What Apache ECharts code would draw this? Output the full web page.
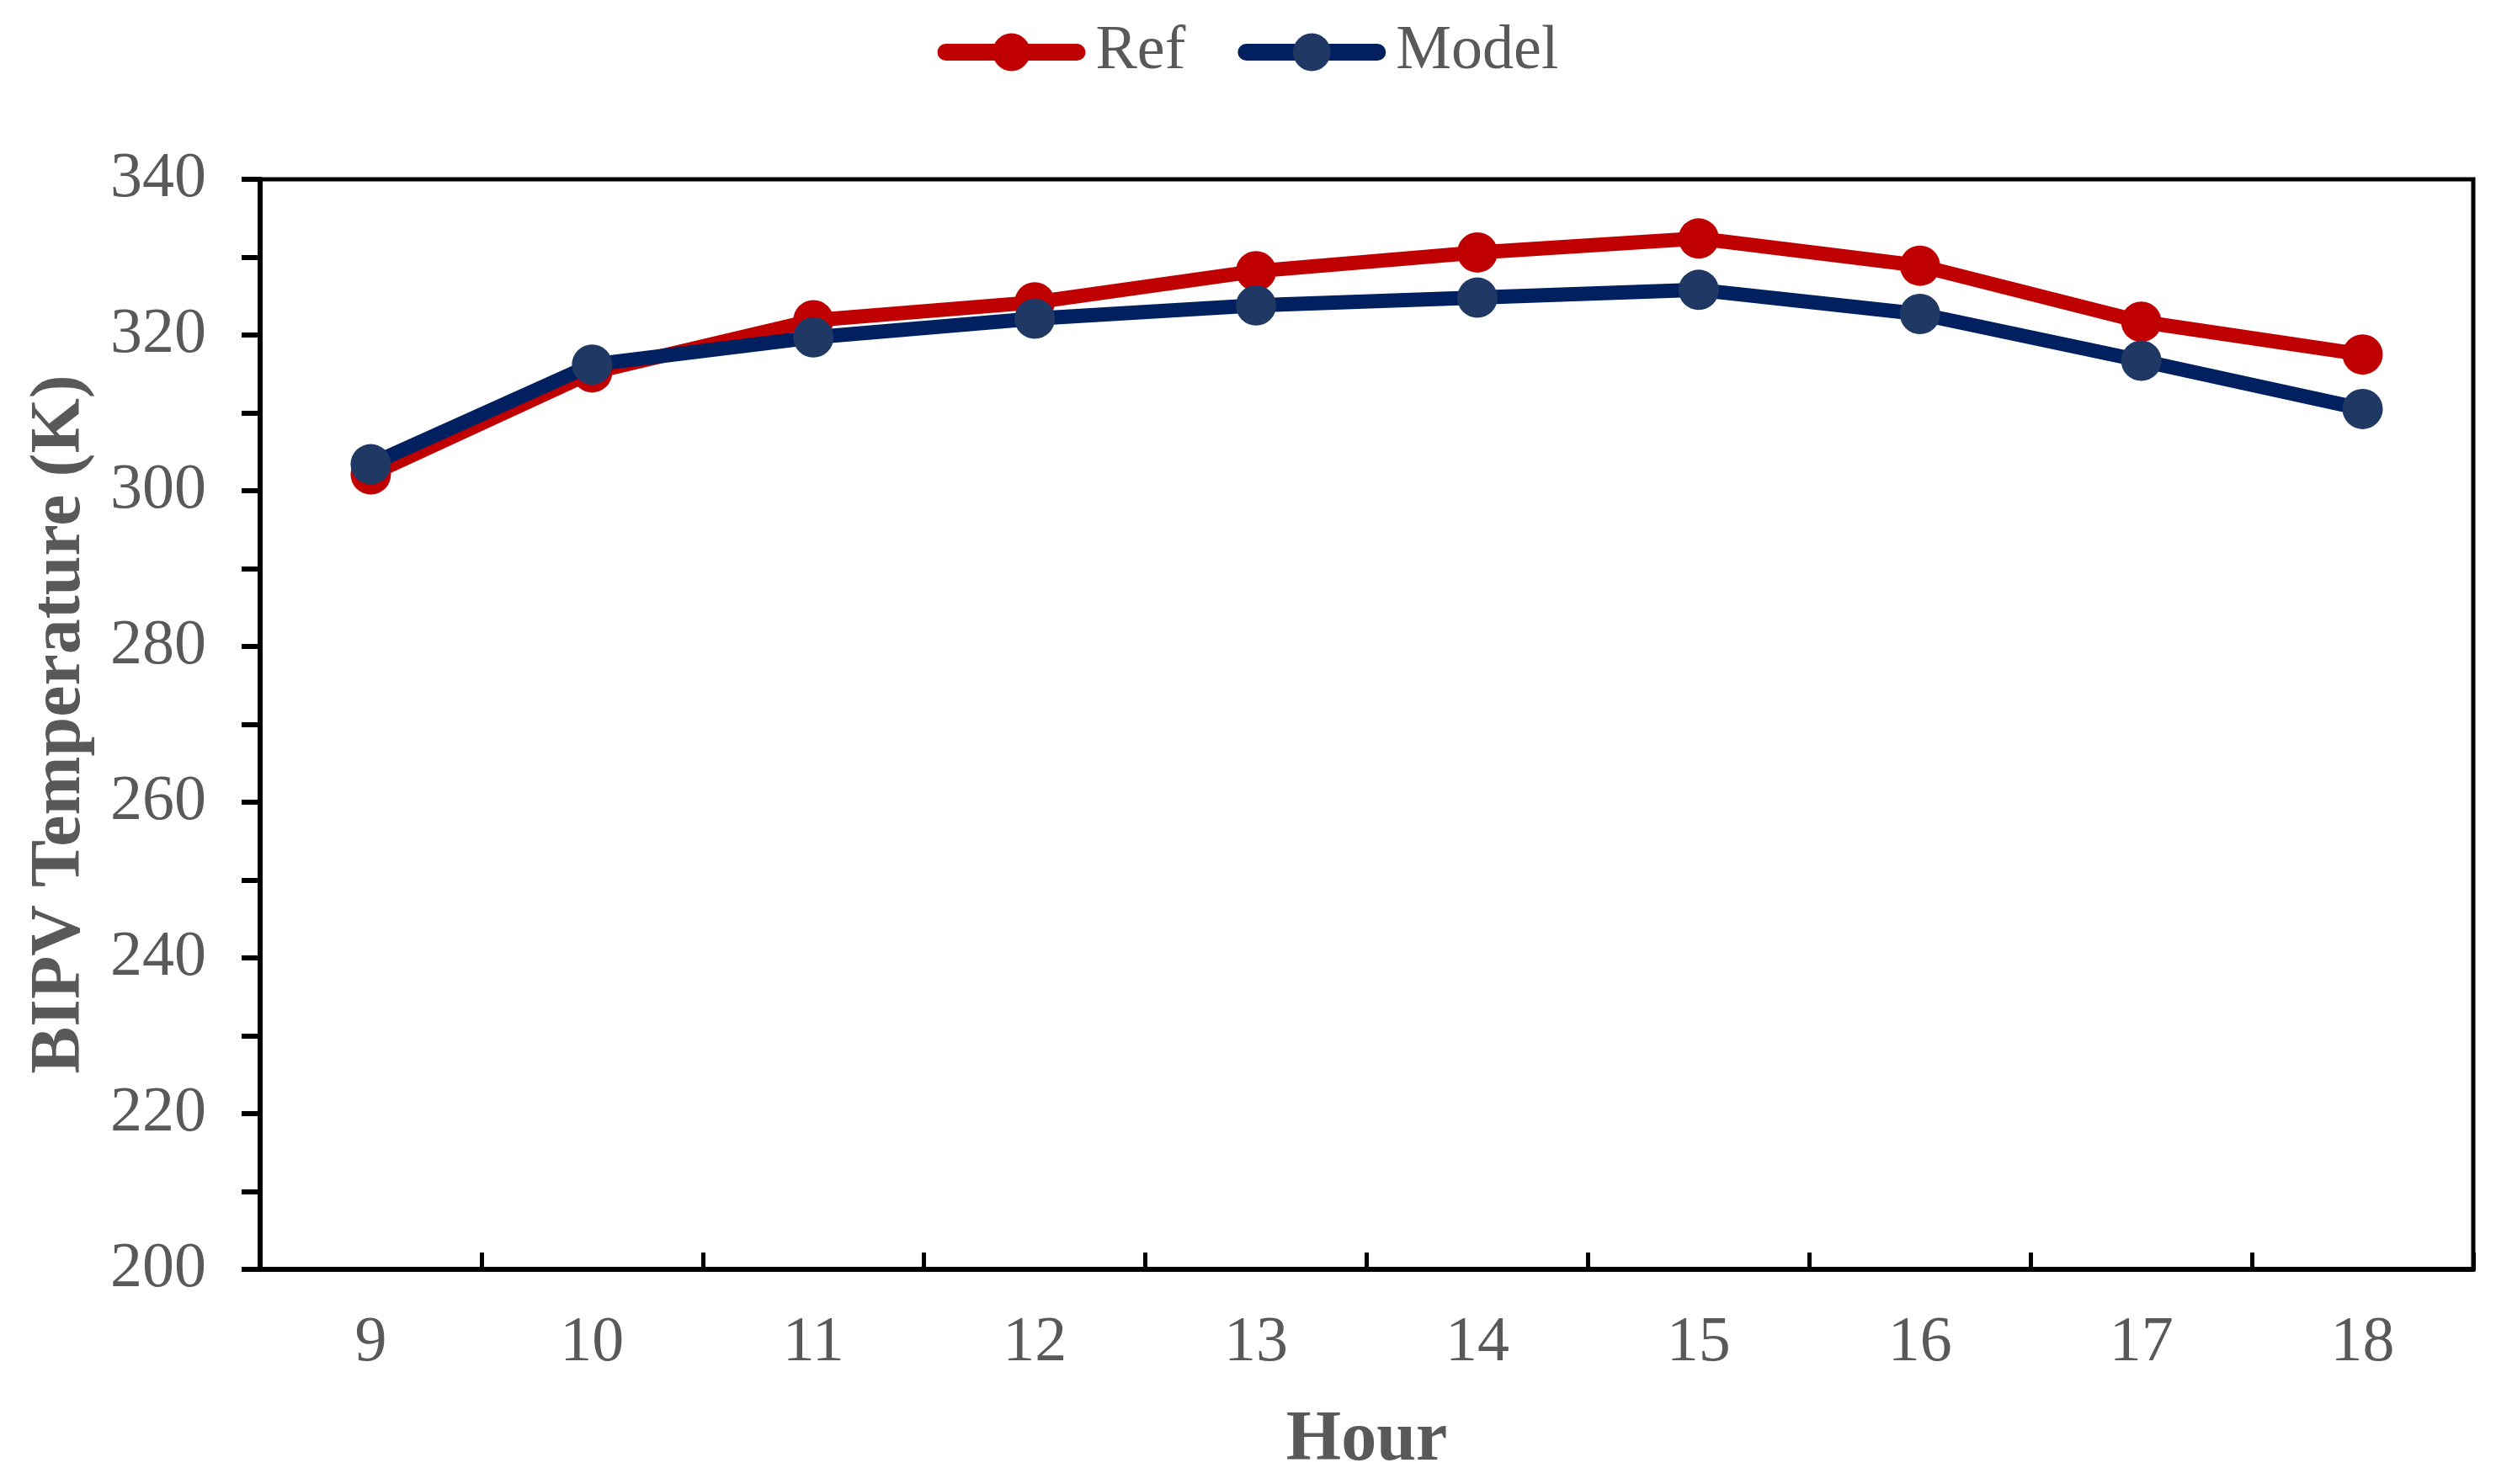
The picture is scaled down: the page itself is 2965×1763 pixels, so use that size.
<!DOCTYPE html>
<html>
<head>
<meta charset="utf-8">
<script src="https://cdn.jsdelivr.net/npm/echarts@6/dist/echarts.min.js"></script>
<style>
html,body{margin:0;padding:0;background:#fff;}
#chart{width:2965px;height:1763px;}
</style>
</head>
<body>
<div id="chart"></div>
<script>
const hours = ['9','10','11','12','13','14','15','16','17','18'];
const refValues = [302.1, 315.2, 321.9, 324.2, 328.2, 330.6, 332.4, 328.9, 321.7, 317.5];
const modelValues = [303.4, 316.2, 319.7, 322.1, 323.8, 324.8, 325.8, 322.7, 316.7, 310.5];
const seriesNames = ['Ref', 'Model'];
const yAxisTitle = 'BIPV Temperature (K)';
const xAxisTitle = 'Hour';

const FONT = "'Liberation Serif', 'Times New Roman', serif";
const GREY = '#595959';

const chart = echarts.init(document.getElementById('chart'), null, {renderer: 'canvas'});
chart.setOption({
  animation: false,
  backgroundColor: '#fff',
  legend: {
    top: 20,
    left: 'center',
    itemWidth: 156,
    itemHeight: 56,
    itemGap: 62,
    lineStyle: {width: 20, cap: 'round'},
    textStyle: {fontFamily: FONT, fontSize: 74, color: GREY, padding: [0, 0, 0, 17]},
    data: seriesNames
  },
  grid: {
    left: 309, right: 27, top: 213, bottom: 255,
    show: true, borderColor: '#000', borderWidth: 5,
    containLabel: false
  },
  xAxis: {
    type: 'category',
    data: hours,
    boundaryGap: true,
    name: xAxisTitle,
    nameLocation: 'middle',
    nameGap: 162,
    nameTextStyle: {fontFamily: FONT, fontSize: 84, fontWeight: 'bold', color: GREY},
    axisLine: {show: true, lineStyle: {color: '#000', width: 6}},
    axisTick: {show: true, inside: true, length: 20, lineStyle: {color: '#000', width: 5}},
    axisLabel: {fontFamily: FONT, fontSize: 76, color: GREY, margin: 50},
    splitLine: {show: false}
  },
  yAxis: {
    type: 'value',
    min: 200, max: 340, interval: 20,
    name: yAxisTitle,
    nameLocation: 'middle',
    nameGap: 195,
    nameRotate: 90,
    nameTextStyle: {fontFamily: FONT, fontSize: 84, fontWeight: 'bold', color: GREY},
    axisLine: {show: true, lineStyle: {color: '#000', width: 6}},
    axisTick: {show: true, inside: false, length: 22, lineStyle: {color: '#000', width: 6}},
    minorTick: {show: true, splitNumber: 2, length: 22, lineStyle: {color: '#000', width: 6}},
    axisLabel: {fontFamily: FONT, fontSize: 76, color: GREY, margin: 64},
    splitLine: {show: false}
  },
  series: [
    {
      name: seriesNames[0],
      type: 'line',
      data: refValues,
      symbol: 'circle',
      symbolSize: 48,
      lineStyle: {color: '#C00000', width: 17},
      itemStyle: {color: '#C00000'},
      z: 2
    },
    {
      name: seriesNames[1],
      type: 'line',
      data: modelValues,
      symbol: 'circle',
      symbolSize: 48,
      lineStyle: {color: '#002060', width: 17},
      itemStyle: {color: '#203864'},
      z: 3
    }
  ]
});
</script>
</body>
</html>
